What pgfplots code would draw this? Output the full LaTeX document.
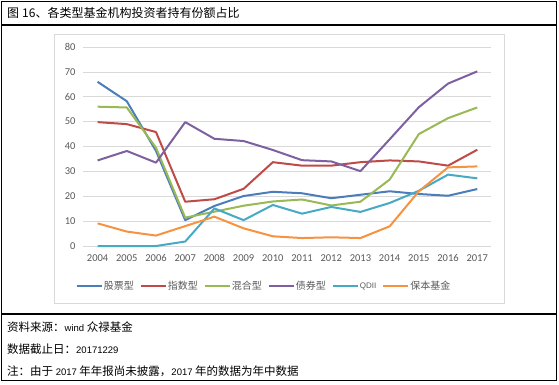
\documentclass[border=0pt]{standalone}
\usepackage{pgfplots}
\pgfplotsset{compat=1.18}
\usepackage{pgfplotstable}
\usepackage{fontspec}
\setmainfont{Liberation Sans}
\newfontfamily\cjk{Noto Sans CJK SC}
\newfontfamily\tickfont{Carlito}
\definecolor{cBlue}{HTML}{4A7EBB}
\definecolor{cRed}{HTML}{BE4B48}
\definecolor{cGreen}{HTML}{98B954}
\definecolor{cPurple}{HTML}{7D60A0}
\definecolor{cCyan}{HTML}{46AAC5}
\definecolor{cOrange}{HTML}{F69240}
\definecolor{cGrid}{HTML}{D9D9D9}
\definecolor{cText}{HTML}{595959}
\pgfplotstableread{
year stock index mixed bond qdii guar
2004 66.0 49.8 56.0 34.4 0.0 9.1
2005 58.2 49.0 55.7 38.2 0.0 5.8
2006 38.2 45.8 39.5 33.5 0.0 4.2
2007 10.4 17.8 11.4 49.8 1.8 8.0
2008 16.1 18.8 13.8 43.1 15.1 11.8
2009 20.1 23.0 16.2 42.2 10.4 7.1
2010 21.8 33.7 17.9 38.6 16.5 3.9
2011 21.2 32.3 18.7 34.5 13.0 3.2
2012 19.2 32.3 16.3 34.0 15.7 3.5
2013 20.6 33.7 17.8 30.1 13.7 3.2
2014 22.0 34.4 26.7 42.9 17.3 7.9
2015 20.9 34.0 45.0 55.8 22.2 22.0
2016 20.2 32.3 51.4 65.3 28.7 31.6
2017 22.9 38.7 55.7 70.2 27.2 32.0
}\datatable
\begin{document}
\begin{tikzpicture}
\useasboundingbox (0bp,0bp) rectangle (559bp,-385bp);
% frames
\draw[black, line width=1.1bp] (1.5bp,-1.5bp) rectangle (556.5bp,-380.5bp);
\draw[black, line width=1.1bp] (1.5bp,-25bp) -- (556.5bp,-25bp);
\draw[black, line width=1.1bp] (1.5bp,-314bp) -- (556.5bp,-314bp);
\draw[cGrid, line width=0.8bp] (54bp,-34bp) rectangle (504bp,-303bp);
% title
\node[anchor=west, inner sep=0pt] at (7bp,-13bp) {\cjk\fontsize{12bp}{14bp}\selectfont 图\hspace{3bp}16、各类型基金机构投资者持有份额占比};
% footnotes
\node[anchor=west, inner sep=0pt] at (7bp,-327bp) {\cjk\fontsize{11.5bp}{14bp}\selectfont 资料来源：{\rmfamily\fontsize{9.5bp}{12bp}\selectfont wind} 众禄基金};
\node[anchor=west, inner sep=0pt] at (7bp,-349bp) {\cjk\fontsize{11.5bp}{14bp}\selectfont 数据截止日：{\rmfamily\fontsize{9.5bp}{12bp}\selectfont 20171229}};
\node[anchor=west, inner sep=0pt] at (7bp,-371bp) {\cjk\fontsize{11.5bp}{14bp}\selectfont 注：由于 {\rmfamily\fontsize{9.5bp}{12bp}\selectfont 2017} 年年报尚未披露，{\rmfamily\fontsize{9.5bp}{12bp}\selectfont 2017} 年的数据为年中数据};
\begin{axis}[
  at={(83bp,-246bp)}, anchor=south west,
  scale only axis, width=408bp, height=199bp,
  xmin=2003.5, xmax=2017.47, ymin=0, ymax=80,
  ytick={0,10,...,80}, xtick={2004,...,2017},
  ymajorgrids, grid style={cGrid, line width=0.75bp},
  axis line style={draw=none}, major tick length=0pt,
  /pgf/number format/1000 sep={},
  /pgf/number format/assume math mode=true,
  tick label style={font=\tickfont\fontsize{10.5bp}{12bp}\selectfont, text=cText},
  xticklabel style={yshift=-5bp},
  yticklabel style={xshift=-4bp},
  clip=false,
  legend columns=6,
  legend style={at={(-0.025,-0.201)}, anchor=west, draw=none, fill=none,
    font=\cjk\fontsize{10bp}{12bp}\selectfont, text=cText,
    nodes={inner sep=1bp},
    /tikz/every even column/.append style={column sep=5bp}},
  legend image code/.code={\draw[#1, line width=2bp] (0bp,0bp) -- (25bp,0bp);},
  every axis plot/.append style={line width=2bp, line join=round, mark=none},
]
\addplot[cBlue] table[x=year, y=stock] {\datatable};
\addplot[cRed] table[x=year, y=index] {\datatable};
\addplot[cGreen] table[x=year, y=mixed] {\datatable};
\addplot[cPurple] table[x=year, y=bond] {\datatable};
\addplot[cCyan] table[x=year, y=qdii] {\datatable};
\addplot[cOrange] table[x=year, y=guar] {\datatable};
\legend{股票型,指数型,混合型,债券型,{\rmfamily\fontsize{8bp}{10bp}\selectfont QDII},保本基金}
\end{axis}
\end{tikzpicture}
\end{document}
